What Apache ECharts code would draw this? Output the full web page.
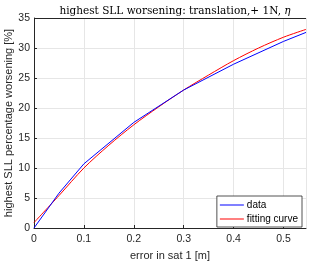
<!DOCTYPE html>
<html>
<head>
<meta charset="utf-8">
<script src="https://cdn.jsdelivr.net/npm/echarts@6/dist/echarts.min.js"></script>
<style>html,body{margin:0;padding:0;background:#fff;}#c{width:313px;height:268px;}</style>
</head>
<body>
<div id="c"></div>
<script>
var xTicks = [0, 0.1, 0.2, 0.3, 0.4, 0.5];
var yTicks = [0, 5, 10, 15, 20, 25, 30, 35];
var dataX = [0, 0.05, 0.1, 0.2, 0.3, 0.4, 0.5, 0.545];
var dataY = [0, 5.8, 10.7, 17.6, 23.0, 27.3, 31.1, 32.6];
var fitX = [0, 0.05, 0.1, 0.15, 0.2, 0.25, 0.3, 0.35, 0.4, 0.45, 0.5, 0.545];
var fitY = [0.9, 5.4, 10.0, 13.8, 17.2, 20.2, 23.0, 25.5, 27.9, 30.0, 31.8, 33.1];
var seriesNames = ['data', 'fitting curve'];

function zip(a, b) { return a.map(function (v, i) { return [v, b[i]]; }); }

var chart = echarts.init(document.getElementById('c'), null, {renderer: 'canvas'});
var axisColor = '#262626';
var font = 'Liberation Sans, Arial, Helvetica, sans-serif';
chart.setOption({
  animation: false,
  backgroundColor: '#ffffff',
  title: {
    text: 'highest SLL worsening: translation,+ 1N, {i|η}',
    left: 170, top: 1, textAlign: 'center',
    textStyle: {
      fontFamily: 'DejaVu Serif, Liberation Serif, serif', fontSize: 10.5, fontWeight: 'normal', color: '#000',
      rich: { i: { fontFamily: 'DejaVu Serif, Liberation Serif, serif', fontSize: 10.5, fontStyle: 'italic', color: '#000' } }
    }
  },
  grid: { left: 34, right: 7, top: 18, bottom: 40, containLabel: false, outerBoundsMode: 'none' },
  legend: {
    data: seriesNames,
    orient: 'vertical',
    right: 11, top: 196,
    icon: 'rect',
    itemWidth: 24, itemHeight: 1,
    itemGap: 4,
    padding: [4, 4, 3, 3],
    backgroundColor: '#ffffff',
    borderColor: axisColor, borderWidth: 0.8, borderRadius: 0,
    textStyle: { fontFamily: font, fontSize: 10, color: '#000', padding: [0, 0, 0, -2] }
  },
  xAxis: {
    type: 'value', min: 0, max: 0.545, interval: 0.1,
    name: 'error in sat 1 [m]', nameLocation: 'middle', nameGap: 22, nameMoveOverlap: false,
    nameTextStyle: { fontFamily: font, fontSize: 11, color: axisColor },
    axisLine: { show: true, lineStyle: { color: axisColor, width: 1 } },
    axisTick: { show: true, inside: true, length: 3, lineStyle: { color: axisColor } },
    axisLabel: { fontFamily: font, fontSize: 10.5, color: axisColor, margin: 6, showMaxLabel: false,
      formatter: function (v) { return xTicks.indexOf(Math.round(v * 10) / 10) >= 0 ? String(Math.round(v * 10) / 10) : ''; } },
    splitLine: { show: true, lineStyle: { color: '#e6e6e6', width: 1 } }
  },
  yAxis: {
    type: 'value', min: 0, max: 35, interval: 5,
    name: 'highest SLL percentage worsening [%]', nameLocation: 'middle', nameGap: 20, nameMoveOverlap: false,
    nameTextStyle: { fontFamily: font, fontSize: 11, color: axisColor },
    axisLine: { show: true, lineStyle: { color: axisColor, width: 1 } },
    axisTick: { show: true, inside: true, length: 3, lineStyle: { color: axisColor } },
    axisLabel: { fontFamily: font, fontSize: 10.5, color: axisColor, margin: 4,
      formatter: function (v) { return yTicks.indexOf(v) >= 0 ? String(v) : ''; } },
    splitLine: { show: true, lineStyle: { color: '#e6e6e6', width: 1 } }
  },
  series: [
    { name: seriesNames[0], type: 'line', data: zip(dataX, dataY), showSymbol: false, symbol: 'none',
      lineStyle: { color: '#0000ff', width: 1 }, itemStyle: { color: '#0000ff' }, z: 3 },
    { name: seriesNames[1], type: 'line', data: zip(fitX, fitY), showSymbol: false, symbol: 'none', smooth: 0.3,
      lineStyle: { color: '#ff0000', width: 1 }, itemStyle: { color: '#ff0000' }, z: 2 },
    { type: 'line', data: [], silent: true,
      markLine: { silent: true, symbol: 'none', label: { show: false },
        lineStyle: { color: axisColor, width: 1, type: 'solid' },
        data: [ { yAxis: 35 }, { xAxis: 0.545 } ] } }
  ]
});
</script>
</body>
</html>
